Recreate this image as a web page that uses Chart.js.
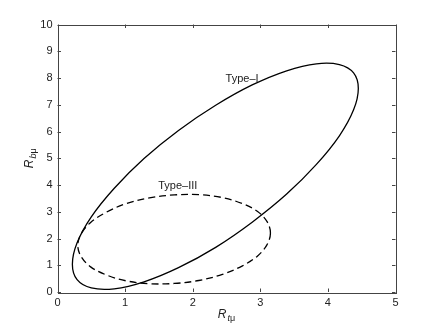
<!DOCTYPE html>
<html>
<head>
<meta charset="utf-8">
<script src="https://cdn.jsdelivr.net/npm/chart.js@4/dist/chart.umd.min.js"></script>
<style>
  html, body { margin: 0; padding: 0; background: #fff; }
</style>
</head>
<body>
<canvas id="chart" width="436" height="328"></canvas>
<script>
// Type-I contour (solid), going round the loop
const typeIx = [4.45, 4.38, 4.17, 3.83, 3.39, 2.88, 2.34, 1.79, 1.28, 0.84, 0.50, 0.29,
                0.22, 0.29, 0.50, 0.84, 1.28, 1.79, 2.34, 2.88, 3.39, 3.83, 4.17, 4.38];
const typeIy = [7.61, 6.81, 5.84, 4.77, 3.66, 2.61, 1.67, 0.91, 0.38, 0.12, 0.15, 0.46,
                1.04, 1.84, 2.81, 3.88, 4.99, 6.04, 6.98, 7.74, 8.27, 8.53, 8.50, 8.19];

// Type-III contour (dashed)
const typeIIIx = [3.15, 3.10, 2.96, 2.73, 2.44, 2.09, 1.73, 1.36, 1.01, 0.72, 0.49, 0.35,
                  0.30, 0.35, 0.49, 0.72, 1.01, 1.36, 1.73, 2.09, 2.44, 2.73, 2.96, 3.10];
const typeIIIy = [2.21, 1.77, 1.35, 0.97, 0.66, 0.43, 0.32, 0.31, 0.42, 0.64, 0.94, 1.32,
                  1.74, 2.18, 2.60, 2.98, 3.30, 3.52, 3.63, 3.64, 3.53, 3.31, 3.01, 2.63];

const xTicks = [0, 1, 2, 3, 4, 5];
const yTicks = [0, 1, 2, 3, 4, 5, 6, 7, 8, 9, 10];

const curveNames = ['Type\u2013I', 'Type\u2013III'];
const nameAt = [[2.73, 7.96], [1.78, 3.98]];

const fontFamily = '"Liberation Sans", Arial, sans-serif';

// closed loop: one extra point on each side so the spline has neighbours at the seam,
// the two outer segments are hidden below
function loop(xs, ys) {
    let pts = xs.map((x, i) => ({ x: x, y: ys[i] }));
    return [pts[pts.length - 1]].concat(pts, [pts[0], pts[1]]);
}

function hideEnds(n) {
    return {
        borderColor: c => (c.p0DataIndex === 0 || c.p1DataIndex === n - 1) ? 'rgba(0,0,0,0)' : undefined
    };
}

// box around plot, inward ticks, curve names and axis titles
const matlabish = {
    id: 'matlabish',
    afterDraw(chart) {
        const ctx = chart.ctx;
        const a = chart.chartArea;
        const sx = chart.scales.x, sy = chart.scales.y;
        const tl = 3.5;
        ctx.save();
        ctx.strokeStyle = '#444';
        ctx.lineWidth = 1;
        ctx.strokeRect(Math.round(a.left) + 0.5, Math.round(a.top) + 0.5,
                       Math.round(a.right - a.left), Math.round(a.bottom - a.top));
        ctx.beginPath();
        xTicks.forEach(v => {
            let px = Math.round(sx.getPixelForValue(v)) + 0.5;
            ctx.moveTo(px, a.bottom); ctx.lineTo(px, a.bottom - tl);
            ctx.moveTo(px, a.top); ctx.lineTo(px, a.top + tl);
        });
        yTicks.forEach(v => {
            let py = Math.round(sy.getPixelForValue(v)) + 0.5;
            ctx.moveTo(a.left, py); ctx.lineTo(a.left + tl, py);
            ctx.moveTo(a.right, py); ctx.lineTo(a.right - tl, py);
        });
        ctx.stroke();

        ctx.fillStyle = '#222';
        ctx.font = '11px ' + fontFamily;
        ctx.textAlign = 'center';
        ctx.textBaseline = 'middle';
        curveNames.forEach((n, i) => {
            ctx.fillText(n, sx.getPixelForValue(nameAt[i][0]), sy.getPixelForValue(nameAt[i][1]));
        });

        // x title: R with subscript t mu
        const cx = (a.left + a.right) / 2;
        ctx.textAlign = 'left';
        ctx.textBaseline = 'alphabetic';
        ctx.font = 'italic 12px ' + fontFamily;
        let wR = ctx.measureText('R').width;
        ctx.font = 'italic 9px ' + fontFamily;
        let wt = ctx.measureText('t').width;
        ctx.font = '9px ' + fontFamily;
        let wm = ctx.measureText('\u03bc').width;
        let x0 = cx - (wR + wt + wm + 1) / 2;
        let base = 318;
        ctx.font = 'italic 12px ' + fontFamily;
        ctx.fillText('R', x0, base);
        ctx.font = 'italic 9px ' + fontFamily;
        ctx.fillText('t', x0 + wR + 1, base + 3);
        ctx.font = '9px ' + fontFamily;
        ctx.fillText('\u03bc', x0 + wR + 1 + wt, base + 3);

        // y title, rotated
        const cy = (a.top + a.bottom) / 2;
        ctx.translate(33, cy);
        ctx.rotate(-Math.PI / 2);
        ctx.font = 'italic 12px ' + fontFamily;
        wR = ctx.measureText('R').width;
        ctx.font = 'italic 9px ' + fontFamily;
        let wb = ctx.measureText('b').width;
        x0 = -(wR + wb + wm + 1) / 2;
        ctx.font = 'italic 12px ' + fontFamily;
        ctx.fillText('R', x0, 0);
        ctx.font = 'italic 9px ' + fontFamily;
        ctx.fillText('b', x0 + wR + 1, 3);
        ctx.font = '9px ' + fontFamily;
        ctx.fillText('\u03bc', x0 + wR + 1 + wb, 3);
        ctx.restore();
    }
};

const tickFont = { family: fontFamily, size: 11 };
const dataI = loop(typeIx, typeIy);
const dataIII = loop(typeIIIx, typeIIIy);

new Chart(document.getElementById('chart'), {
    type: 'scatter',
    data: {
        datasets: [{
            label: curveNames[0],
            data: dataI,
            showLine: true,
            borderColor: '#000',
            borderWidth: 1.3,
            pointRadius: 0,
            tension: 0.35,
            fill: false,
            segment: hideEnds(dataI.length)
        }, {
            label: curveNames[1],
            data: dataIII,
            showLine: true,
            borderColor: '#000',
            borderWidth: 1.3,
            borderDash: [7, 4],
            pointRadius: 0,
            tension: 0.35,
            fill: false,
            segment: hideEnds(dataIII.length)
        }]
    },
    options: {
        responsive: false,
        animation: false,
        layout: { padding: { top: 24.5, right: 40.5, left: 0, bottom: 0 } },
        plugins: { legend: { display: false }, tooltip: { enabled: false } },
        scales: {
            x: {
                type: 'linear', min: 0, max: 5,
                afterBuildTicks(s) { s.ticks = xTicks.map(v => ({ value: v })); },
                afterFit(s) { s.height = 36; },
                grid: { display: false, drawTicks: false },
                border: { display: false },
                ticks: { font: tickFont, color: '#222', padding: 4, maxRotation: 0 }
            },
            y: {
                type: 'linear', min: 0, max: 10,
                afterBuildTicks(s) { s.ticks = yTicks.map(v => ({ value: v })); },
                afterFit(s) { s.width = 57.5; },
                grid: { display: false, drawTicks: false },
                border: { display: false },
                ticks: { font: tickFont, color: '#222', padding: 5 }
            }
        }
    },
    plugins: [matlabish]
});
</script>
</body>
</html>
